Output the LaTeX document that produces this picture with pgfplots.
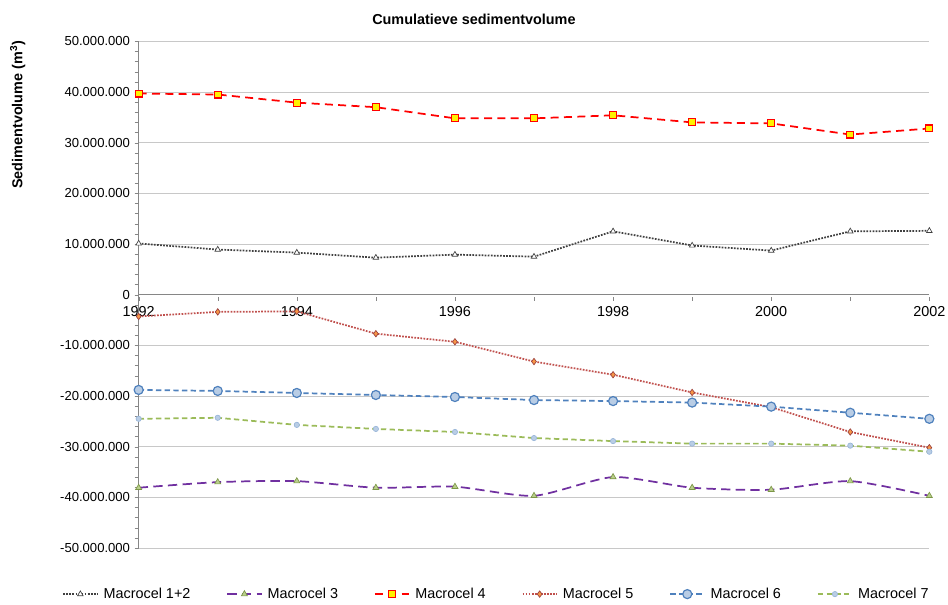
\documentclass[border=0pt]{standalone}
\usepackage{pgfplots}
\pgfplotsset{compat=1.18}
\usepackage{pgfplotstable}
\usepackage{fontspec}
\setmainfont{Liberation Sans}

\definecolor{axisgray}{HTML}{868686}
\definecolor{gridgray}{HTML}{C8C8C8}
\definecolor{mcA}{HTML}{404040}
\definecolor{mcB}{HTML}{7030A0}
\definecolor{mcC}{HTML}{FF0000}
\definecolor{mcD}{HTML}{C0504D}
\definecolor{mcE}{HTML}{4F81BD}
\definecolor{mcF}{HTML}{9BBB59}
\definecolor{fillE}{HTML}{B9CDE5}
\definecolor{fillD}{HTML}{F79646}

% volumes in millions of m3
\pgfplotstableread{
year  m12   m3     m4    m5     m6     m7
1992  10.1  -38.1  39.7  -4.3   -18.8  -24.5
1993  8.9   -37.0  39.5  -3.4   -19.0  -24.3
1994  8.3   -36.8  37.9  -3.3   -19.4  -25.7
1995  7.3   -38.1  37.0  -7.7   -19.8  -26.5
1996  7.9   -37.9  34.8  -9.3   -20.2  -27.1
1997  7.5   -39.7  34.8  -13.2  -20.8  -28.3
1998  12.5  -36.0  35.4  -15.8  -21.0  -28.9
1999  9.7   -38.1  34.0  -19.3  -21.3  -29.4
2000  8.7   -38.5  33.8  -22.2  -22.1  -29.4
2001  12.5  -36.8  31.6  -27.1  -23.3  -29.8
2002  12.6  -39.7  32.8  -30.2  -24.5  -31.0
}\data

\begin{document}
\begin{tikzpicture}
\path[use as bounding box] (-104pt,-42pt) rectangle (607pt,411pt);
\begin{axis}[
    at={(0,0)}, anchor=south west,
    width=593pt, height=380pt, scale only axis,
    font=\fontsize{9.8}{11}\selectfont,
    xmin=1992, xmax=2002,
    ymin=-50, ymax=50,
    axis x line=middle, axis y line=left,
    axis line style={-, draw=axisgray},
    hide obscured x ticks=false,
    xtick={1992,1994,...,2002},
    minor xtick={1993,1995,...,2001},
    ytick={-50,-40,-30,-20,-10,0,10,20,30,40,50},
    yticklabels={-50.000.000,-40.000.000,-30.000.000,-20.000.000,-10.000.000,0,10.000.000,20.000.000,30.000.000,40.000.000,50.000.000},
    minor ytick={-48,-46,...,48},
    xticklabel style={/pgf/number format/1000 sep={}, /pgf/number format/assume math mode=true,
        font=\fontsize{10.8}{12}\selectfont, yshift=-2pt},
    tick style={axisgray},
    tick align=outside,
    xtick style={yshift=-1.5pt},
    major tick length=3pt, minor tick length=3pt,
    ymajorgrids=true,
    grid style={gridgray, line width=0.6pt},
    every axis title shift=0pt,
    title={\textbf{Cumulatieve sedimentvolume}},
    title style={at={(axis description cs:0.424,1.044)}, anchor=center, yshift=0pt,
        font=\fontsize{10.8}{12}\selectfont},
    ylabel={\textbf{Sedimentvolume (m\textsuperscript{3})}},
    ylabel style={at={(axis description cs:-0.153,0.855)}, anchor=center, rotate=0,
        font=\fontsize{10.8}{12}\selectfont},
    legend columns=6,
    legend cell align=left,
    legend image code/.code={%
        \draw[mark repeat=2,mark phase=2] plot coordinates {(0cm,0cm) (0.45cm,0cm) (0.9cm,0cm)};},
    legend style={draw=none, fill=none, at={(axis description cs:0.453,-0.091)}, anchor=center,
        font=\fontsize{10.8}{12}\selectfont,
        /tikz/every odd column/.append style={column sep=2pt},
        /tikz/every even column/.append style={column sep=25pt}},
    every axis plot/.append style={line width=1.3pt},
]
\addplot[mcA, densely dotted, mark=triangle*, mark size=2.4pt,
    mark options={solid, fill=white, draw=mcA, line width=0.5pt}]
    table[x=year, y=m12] {\data};
\addlegendentry{Macrocel 1+2}
\addplot[mcB, dash pattern=on 7pt off 4pt, smooth, tension=0.4, mark=triangle*, mark size=2.6pt,
    mark options={solid, fill=mcF!70, draw=mcF!80!black, line width=0.5pt}]
    table[x=year, y=m3] {\data};
\addlegendentry{Macrocel 3}
\addplot[mcC, dash pattern=on 6pt off 4pt, mark=square*, mark size=2.6pt,
    mark options={solid, fill=yellow, draw=mcC, line width=0.8pt}]
    table[x=year, y=m4] {\data};
\addlegendentry{Macrocel 4}
\addplot[mcD, densely dotted, mark=diamond*, mark size=2.4pt,
    mark options={solid, fill=fillD, draw=mcD!80!black, line width=0.5pt}]
    table[x=year, y=m5] {\data};
\addlegendentry{Macrocel 5}
\addplot[mcE, dash pattern=on 4pt off 2.5pt, mark=*, mark size=3.4pt,
    mark options={solid, fill=fillE, draw=mcE, line width=0.9pt}]
    table[x=year, y=m6] {\data};
\addlegendentry{Macrocel 6}
\addplot[mcF, dash pattern=on 4pt off 2.5pt, mark=*, mark size=2pt,
    mark options={solid, fill=fillE, draw=fillE!70!mcE, line width=0.5pt}]
    table[x=year, y=m7] {\data};
\addlegendentry{Macrocel 7}
\end{axis}
\end{tikzpicture}
\end{document}
